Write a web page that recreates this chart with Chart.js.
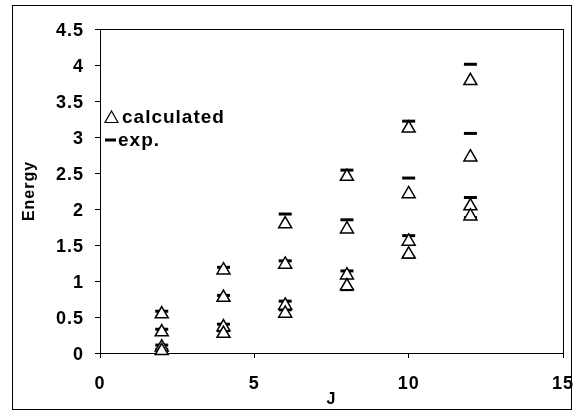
<!DOCTYPE html>
<html>
<head>
<meta charset="utf-8">
<script src="https://cdn.jsdelivr.net/npm/chart.js@4"></script>
<style>
    html, body { margin: 0; padding: 0; background: #fff; }
</style>
</head>
<body>
<canvas id="chartEnergia" width="576" height="413"></canvas>
<script>
// valores: niveles de energia por J
const J = [2, 4, 6, 8, 10, 12];
const calculated = [
    [0.54, 0.29, 0.08, 0.03],
    [1.15, 0.77, 0.36, 0.27],
    [1.79, 1.23, 0.66, 0.55],
    [2.45, 1.72, 1.08, 0.93],
    [3.12, 2.21, 1.55, 1.37],
    [3.78, 2.72, 2.04, 1.90],
];
const experimental = [
    [0.58, 0.33, 0.11, 0.05],
    [1.19, 0.80, 0.40, 0.31],
    [1.93, 1.28, 0.72, 0.60],
    [2.54, 1.85, 1.14, 0.88],
    [3.22, 2.43, 1.63, 1.33],
    [4.01, 3.05, 2.16, 1.88],
];
const xTicks = [0, 5, 10, 15];
const yTicks = [0, 0.5, 1, 1.5, 2, 2.5, 3, 3.5, 4, 4.5];

const fuente = '"Liberation Sans", Arial, sans-serif';

function puntos(niveles) {
    let pts = [];
    J.forEach((j, i) => niveles[i].forEach(e => pts.push({x: j, y: e})));
    return pts;
}

// marco exterior y borde del area de trazado
const marcos = {
    id: 'marcos',
    beforeDraw(chart) {
        const ctx = chart.ctx;
        ctx.save();
        ctx.fillStyle = '#fff';
        ctx.fillRect(0, 0, chart.width, chart.height);
        ctx.strokeStyle = '#000';
        ctx.lineWidth = 1;
        ctx.strokeRect(12.5, 5.5, 559, 404);
        ctx.restore();
        // texto un poco espaciado como en el original
        ctx.letterSpacing = '1px';
    },
    beforeDatasetsDraw(chart) {
        const a = chart.chartArea;
        const ctx = chart.ctx;
        ctx.save();
        ctx.strokeStyle = '#000';
        ctx.lineWidth = 1;
        ctx.strokeRect(a.left + 0.5, a.top + 0.5, a.right - a.left, a.bottom - a.top);
        ctx.restore();
    },
    afterDraw(chart) {
        chart.ctx.letterSpacing = '0px';
    }
};

// leyenda dentro del area de trazado
const leyenda = {
    id: 'leyenda',
    afterDraw(chart) {
        const ctx = chart.ctx;
        const ds = chart.data.datasets;
        ctx.save();
        ctx.strokeStyle = '#000';
        ctx.fillStyle = '#000';
        ctx.font = 'bold 19px ' + fuente;
        ctx.letterSpacing = '1px';
        ctx.textBaseline = 'middle';
        // triangulo
        ctx.lineWidth = 1.2;
        ctx.beginPath();
        ctx.moveTo(111.5, 111);
        ctx.lineTo(118, 122.5);
        ctx.lineTo(105, 122.5);
        ctx.closePath();
        ctx.stroke();
        ctx.fillText(ds[0].label, 122, 118);
        // guion
        ctx.lineWidth = 3;
        ctx.beginPath();
        ctx.moveTo(105, 140);
        ctx.lineTo(116, 140);
        ctx.stroke();
        ctx.fillText(ds[1].label, 118, 141);
        ctx.restore();
    }
};

let ctx_energia = document.getElementById('chartEnergia').getContext('2d');
let chartInstance = new Chart(ctx_energia, {
    type: 'scatter',
    data: {
        datasets: [
            {
                label: 'calculated',
                data: puntos(calculated),
                pointStyle: 'triangle',
                pointRadius: 7.5,
                pointBorderWidth: 1.5,
                borderColor: '#000',
                backgroundColor: '#fff',
                clip: false,
            },
            {
                label: 'exp.',
                data: puntos(experimental),
                pointStyle: 'line',
                pointRadius: 6.5,
                pointBorderWidth: 3,
                borderColor: '#000',
                backgroundColor: '#000',
                clip: false,
            },
        ],
    },
    options: {
        responsive: false,
        devicePixelRatio: 1,
        animation: false,
        layout: {
            padding: {left: 20, top: 29, right: 13, bottom: 4},
        },
        plugins: {
            legend: {display: false},
            tooltip: {enabled: false},
        },
        scales: {
            x: {
                type: 'linear',
                min: 0,
                max: 15,
                afterBuildTicks: s => { s.ticks = xTicks.map(v => ({value: v})); },
                afterFit: s => { s.height = 56; s.paddingLeft = 0; s.paddingRight = 0; },
                ticks: {
                    color: '#000',
                    font: {family: fuente, size: 18, weight: 'bold'},
                    padding: 15,
                    maxRotation: 0,
                    callback: v => String(v),
                },
                grid: {drawOnChartArea: false, tickLength: 5, color: '#000'},
                border: {color: '#000', width: 1},
                title: {
                    display: true,
                    text: 'J',
                    color: '#000',
                    font: {family: fuente, size: 16, weight: 'bold'},
                    padding: 0,
                },
            },
            y: {
                type: 'linear',
                min: 0,
                max: 4.5,
                afterBuildTicks: s => { s.ticks = yTicks.map(v => ({value: v})); },
                afterFit: s => { s.width = 80; s.paddingTop = 0; s.paddingBottom = 0; },
                ticks: {
                    color: '#000',
                    font: {family: fuente, size: 18, weight: 'bold'},
                    padding: 11,
                    labelOffset: 2,
                    callback: v => String(v),
                },
                grid: {drawOnChartArea: false, tickLength: 5, color: '#000'},
                border: {color: '#000', width: 1},
                title: {
                    display: true,
                    text: 'Energy',
                    color: '#000',
                    font: {family: fuente, size: 16, weight: 'bold'},
                    padding: 0,
                },
            },
        },
    },
    plugins: [marcos, leyenda],
});
</script>
</body>
</html>
